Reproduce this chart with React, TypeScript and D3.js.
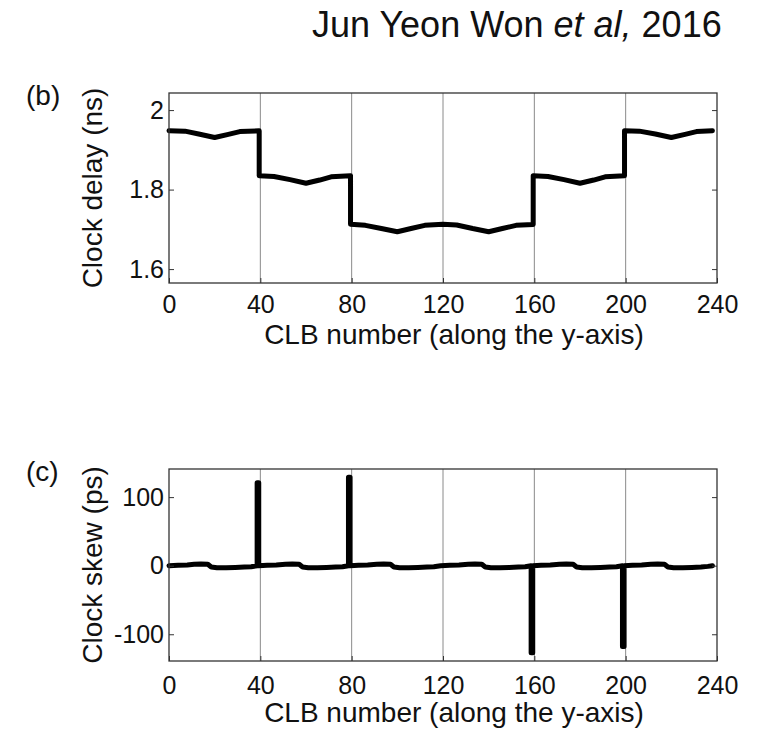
import { useEffect, useRef } from "react";
import * as d3 from "d3";

// panel (b): clock delay vs CLB index
const delayClb = [
  0, 7, 13, 20, 26, 31, 39.5, 39.5, 46, 53, 60, 66, 71, 79.5, 79.5, 86, 93, 100,
  106, 112, 120, 126, 133, 140, 146, 152, 159.5, 159.5, 166, 173, 180, 186, 191,
  199.5, 199.5, 206, 213, 220, 226, 231, 238,
];
const delayNs = [
  1.948, 1.947, 1.94, 1.931, 1.939, 1.946, 1.948, 1.835, 1.833, 1.825, 1.816,
  1.824, 1.832, 1.835, 1.713, 1.71, 1.702, 1.694, 1.702, 1.71, 1.713, 1.711,
  1.702, 1.694, 1.702, 1.71, 1.712, 1.835, 1.833, 1.825, 1.816, 1.824, 1.832,
  1.835, 1.948, 1.947, 1.94, 1.931, 1.939, 1.946, 1.948,
];

// panel (c): clock skew vs CLB index
const skewClb = [
  0, 4, 8, 11, 14, 17, 18.5, 21, 25, 29, 33, 36, 38.6, 38.6, 39.3, 39.3,
  43, 47, 51, 54, 57, 58.5, 61, 65, 69, 73, 76, 78.6, 78.6, 79.3, 79.3,
  83, 87, 91, 94, 97, 98.5, 101, 105, 109, 113, 116, 119,
  123, 127, 131, 134, 137, 138.5, 141, 145, 149, 153, 156, 158.6, 158.6, 159.3, 159.3,
  163, 167, 171, 174, 177, 178.5, 181, 185, 189, 193, 196, 198.6, 198.6, 199.3, 199.3,
  203, 207, 211, 214, 217, 218.5, 221, 225, 229, 233, 236, 238,
];
const skewPs = [
  0, 0.5, 1, 2, 2.5, 2, -2, -3, -3, -2.5, -2, -1.5, 0, 121, 121, 0,
  0.5, 1, 2, 2.5, 2, -2, -3, -3, -2.5, -2, -1.5, 0, 129, 129, 0,
  0.5, 1, 2, 2.5, 2, -2, -3, -3, -2.5, -2, -1.5, 0,
  0.5, 1, 2, 2.5, 2, -2, -3, -3, -2.5, -2, -1.5, 0, -127, -127, 0,
  0.5, 1, 2, 2.5, 2, -2, -3, -3, -2.5, -2, -1.5, 0, -118, -118, 0,
  0.5, 1, 2, 2.5, 2, -2, -3, -3, -2.5, -2, -1, 0,
];

const clbTicks = [0, 40, 80, 120, 160, 200, 240];
const gridTicks = [40, 80, 120, 160, 200];
const delayTicks = [1.6, 1.8, 2];
const skewTicks = [-100, 0, 100];

const FONT = "'Liberation Sans', Arial, Helvetica, sans-serif";

const App = () => {
  const svgRef = useRef<SVGSVGElement | null>(null);

  useEffect(() => {
    const svg = d3.select(svgRef.current);
    svg.selectAll("*").remove();

    const x = d3.scaleLinear().domain([0, 240]).range([169, 717]);

    const panel = (
      top: number,
      bottom: number,
      domain: [number, number],
      ticks: number[],
      xs: number[],
      ys: number[],
      ylabel: string,
      tag: string,
      pad: number
    ) => {
      const y = d3.scaleLinear().domain(domain).range([bottom, top]);
      const g = svg.append("g");

      // vertical grid lines
      g.selectAll("line.grid")
        .data(gridTicks)
        .join("line")
        .attr("class", "grid")
        .attr("x1", (d) => x(d))
        .attr("x2", (d) => x(d))
        .attr("y1", top)
        .attr("y2", bottom)
        .attr("stroke", "#8a8a8a")
        .attr("stroke-width", 1);

      // the curve
      const line = d3
        .line<number>()
        .x((_, i) => x(xs[i]))
        .y((d) => y(d));
      g.append("path")
        .attr("d", line(ys))
        .attr("fill", "none")
        .attr("stroke", "#000")
        .attr("stroke-width", 5)
        .attr("stroke-linejoin", "round")
        .attr("stroke-linecap", "round");

      // axes, ticks pointing inward (matlab style)
      const left = g
        .append("g")
        .attr("transform", `translate(${x(0)},0)`)
        .call(
          d3
            .axisLeft(y)
            .tickValues(ticks)
            .tickFormat((d) => String(d))
            .tickSizeInner(-5)
            .tickSizeOuter(0)
            .tickPadding(5)
        );
      g.append("g")
        .attr("transform", `translate(${x(240)},0)`)
        .call(d3.axisRight(y).tickValues(ticks).tickFormat(() => "").tickSizeInner(-5).tickSizeOuter(0));
      const bot = g
        .append("g")
        .attr("transform", `translate(0,${bottom})`)
        .call(d3.axisBottom(x).tickValues(clbTicks).tickSizeInner(-5).tickSizeOuter(0).tickPadding(pad));

      g.selectAll(".domain").remove();
      g.selectAll(".tick line").attr("stroke", "#333");
      [left, bot].forEach((a) =>
        a.selectAll("text").attr("font-family", FONT).attr("font-size", 25).attr("fill", "#111")
      );

      g.append("rect")
        .attr("x", x(0))
        .attr("y", top)
        .attr("width", x(240) - x(0))
        .attr("height", bottom - top)
        .attr("fill", "none")
        .attr("stroke", "#333")
        .attr("stroke-width", 1.3);

      g.append("text")
        .attr("transform", `translate(102,${(top + bottom) / 2}) rotate(-90)`)
        .attr("text-anchor", "middle")
        .attr("font-family", FONT)
        .attr("font-size", 28)
        .attr("fill", "#111")
        .text(ylabel);

      g.append("text")
        .attr("x", x(120) + 11)
        .attr("y", bottom + 61)
        .attr("text-anchor", "middle")
        .attr("font-family", FONT)
        .attr("font-size", 28)
        .attr("fill", "#111")
        .text("CLB number (along the y-axis)");

      g.append("text")
        .attr("x", 26)
        .attr("y", top + 12)
        .attr("font-family", FONT)
        .attr("font-size", 28)
        .attr("fill", "#111")
        .text(tag);
    };

    panel(93, 283, [1.565, 2.043], delayTicks, delayClb, delayNs, "Clock delay (ns)", "(b)", 12);
    panel(469, 661, [-139, 141], skewTicks, skewClb, skewPs, "Clock skew (ps)", "(c)", 15);

    const title = svg
      .append("text")
      .attr("x", 312)
      .attr("y", 37)
      .attr("font-family", FONT)
      .attr("font-size", 36)
      .attr("fill", "#111");
    title.append("tspan").text("Jun Yeon Won ");
    title.append("tspan").attr("font-style", "italic").text("et al,");
    title.append("tspan").text(" 2016");
  }, []);

  return (
    <svg
      ref={svgRef}
      width={764}
      height={730}
      style={{ position: "absolute", left: 0, top: 0, background: "#fff" }}
    />
  );
};

export default App;
